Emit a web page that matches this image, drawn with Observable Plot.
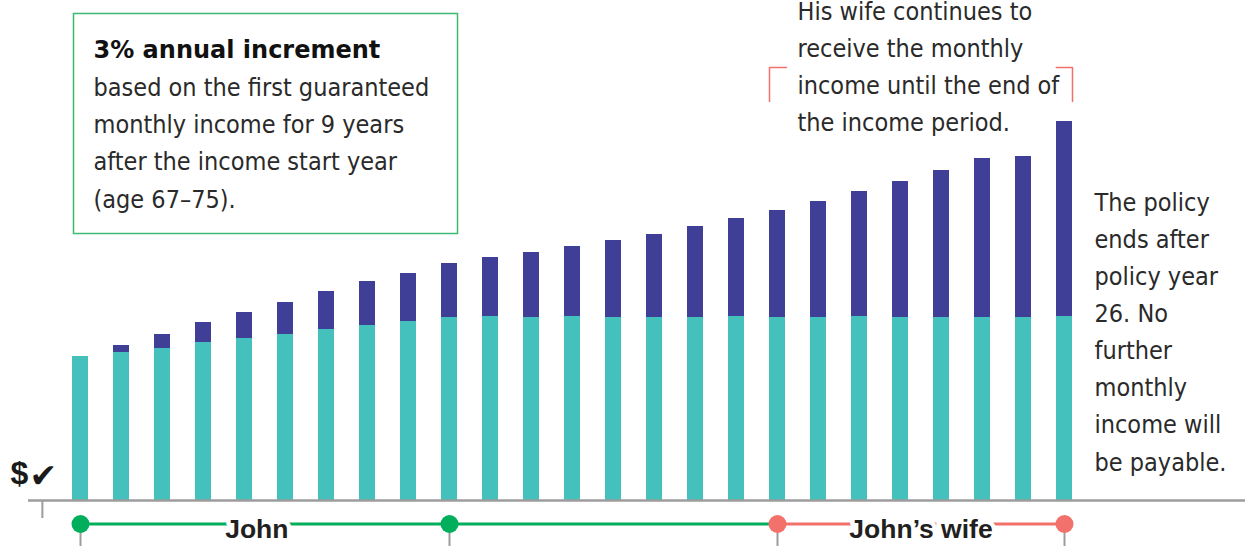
<!DOCTYPE html>
<html>
<head>
<meta charset="utf-8">
<script src="https://cdn.jsdelivr.net/npm/d3@7"></script>
<script src="https://cdn.jsdelivr.net/npm/@observablehq/plot@0.6"></script>
<style>
  html, body { margin: 0; padding: 0; background: #fff; }
  #chart { width: 1255px; height: 546px; overflow: hidden; }
</style>
</head>
<body>
<div id="chart"></div>
<script>
// ---- Data (relative monthly income units) ----
const policyYears = [1, 2, 3, 4, 5, 6, 7, 8, 9, 10, 11, 12, 13, 14, 15, 16, 17, 18, 19, 20, 21, 22, 23, 24, 25];
const guaranteedIncome = [144, 148, 152, 158, 162, 166, 171, 175, 179, 183, 184, 183, 184, 183, 183, 183, 184, 183, 183, 184, 183, 183, 183, 183, 184];
const nonGuaranteedIncome = [0, 7, 14, 20, 26, 32, 38, 44, 48, 54, 59, 65, 70, 77, 83, 91, 98, 107, 116, 125, 136, 147, 159, 161, 195];

const people = ["John", "John\u2019s wife"];
const personStart = [1, 18];
const personEnd = [18, 25];
const personLabelAt = [5.3, 21.5];
const milestoneYears = [1, 10, 18, 25];
const milestoneOwner = ["John", "John", "John\u2019s wife", "John\u2019s wife"];

const boxTitle = "3% annual increment";
const boxText = "based on the first guaranteed\nmonthly income for 9 years\nafter the income start year\n(age 67\u201375).";
const wifeNote = "His wife continues to\nreceive the monthly\nincome until the end of\nthe income period.";
const endNote = "The policy\nends after\npolicy year\n26. No\nfurther\nmonthly\nincome will\nbe payable.";

// ---- Styles ----
const TEAL = "#44c1bd", PURPLE = "#3f3f98", GREEN = "#00ae5b", BOXGREEN = "#3dba72", SALMON = "#f2716b", GREY = "#9c9c9c";
const personColor = {"John": GREEN, "John\u2019s wife": SALMON};
const HALF = 0.195; // half bar width in policy-year units
const BODY_FONT = "'DejaVu Sans Condensed', 'Liberation Sans Narrow', 'Liberation Sans', sans-serif";
const BOLD_FONT = "'Liberation Sans', Arial, sans-serif";
const BODY_SIZE = 25;

const rows = policyYears.map((year, i) => ({
  year,
  guaranteed: guaranteedIncome[i],
  total: guaranteedIncome[i] + nonGuaranteedIncome[i]
}));
const periods = people.map((p, i) => ({person: p, start: personStart[i], end: personEnd[i], at: personLabelAt[i]}));
const milestones = milestoneYears.map((y, i) => ({year: y, person: milestoneOwner[i]}));

const TL = -23.5; // timeline level below baseline (y units = px)

const bracket = [
  [{x: personStart[1] - HALF, y: 399}, {x: personStart[1] - HALF, y: 433}, {x: personStart[1] + 0.22, y: 433}],
  [{x: personEnd[1] - 0.2, y: 433}, {x: personEnd[1] + HALF, y: 433}, {x: personEnd[1] + HALF, y: 399}]
];

const chart = Plot.plot({
  width: 1255,
  height: 546,
  marginTop: 0,
  marginBottom: 46,
  marginLeft: 28,
  marginRight: 10,
  x: {type: "linear", domain: [1, 25], range: [80, 1064], axis: null},
  y: {type: "linear", domain: [0, 500], range: [500, 0], axis: null},
  style: {fontFamily: BODY_FONT, background: "#fff", overflow: "visible"},
  marks: [
    // annotation box
    Plot.frame({stroke: BOXGREEN, strokeWidth: 1.5, insetLeft: 45, insetTop: 13, insetRight: 788, insetBottom: 267}),
    Plot.text([boxTitle], {frameAnchor: "top-left", dx: 65, dy: 57, lineAnchor: "bottom", textAnchor: "start",
      fontFamily: "'DejaVu Sans', sans-serif", fontWeight: "bold", fontSize: 24, fill: "#111"}),
    Plot.text([boxText], {frameAnchor: "top-left", dx: 65, dy: 207, lineAnchor: "bottom", textAnchor: "start",
      fontSize: BODY_SIZE, lineHeight: 37.3 / BODY_SIZE, fill: "#2a2a2a"}),
    // wife note with bracket
    Plot.text([wifeNote], {frameAnchor: "top-left", dx: 769, dy: 130, lineAnchor: "bottom", textAnchor: "start",
      fontSize: BODY_SIZE, lineHeight: 37 / BODY_SIZE, fill: "#2a2a2a"}),
    ...bracket.map(b => Plot.line(b, {x: "x", y: "y", stroke: SALMON, strokeWidth: 1.5})),
    // end note
    Plot.text([endNote], {frameAnchor: "top-left", dx: 1066, dy: 470, lineAnchor: "bottom", textAnchor: "start",
      fontSize: BODY_SIZE, lineHeight: 37.14 / BODY_SIZE, fill: "#2a2a2a"}),
    // bars
    Plot.rect(rows, {x1: d => d.year - HALF, x2: d => d.year + HALF, y1: 0, y2: "guaranteed", fill: TEAL}),
    Plot.rect(rows.filter(d => d.total > d.guaranteed), {x1: d => d.year - HALF, x2: d => d.year + HALF, y1: "guaranteed", y2: "total", fill: PURPLE}),
    // baseline & origin tick
    Plot.ruleY([0], {stroke: GREY, strokeWidth: 2.5}),
    Plot.ruleX([0.07], {y1: 0, y2: -18, stroke: GREY, strokeWidth: 2}),
    // $ check label
    Plot.text(["$"], {frameAnchor: "bottom-left", dx: -18, dy: -17, lineAnchor: "bottom", textAnchor: "start",
      fontFamily: "'Liberation Sans', sans-serif", fontWeight: "bold", fontSize: 32, fill: "#1a1a1a"}),
    Plot.text(["\u2714"], {frameAnchor: "bottom-left", dx: 1, dy: -14, lineAnchor: "bottom", textAnchor: "start",
      fontFamily: "'DejaVu Sans', sans-serif", fontWeight: "bold", fontSize: 33, fill: "#1a1a1a"}),
    // timeline
    Plot.ruleX(milestones, {x: "year", y1: TL, y2: -46, stroke: GREY, strokeWidth: 2}),
    Plot.link(periods, {x1: "start", x2: "end", y1: TL, y2: TL, stroke: d => personColor[d.person], strokeWidth: 2.8}),
    Plot.text(periods, {x: "at", y: -37, text: "person", lineAnchor: "bottom", fontFamily: BOLD_FONT, fontWeight: "bold",
      fontSize: 26.5, fill: "#231f20", stroke: "white", strokeWidth: 9, paintOrder: "stroke"}),
    Plot.dot(milestones, {x: "year", y: TL, r: 9, fill: d => personColor[d.person], stroke: null})
  ]
});

document.getElementById("chart").appendChild(chart);
</script>
</body>
</html>
